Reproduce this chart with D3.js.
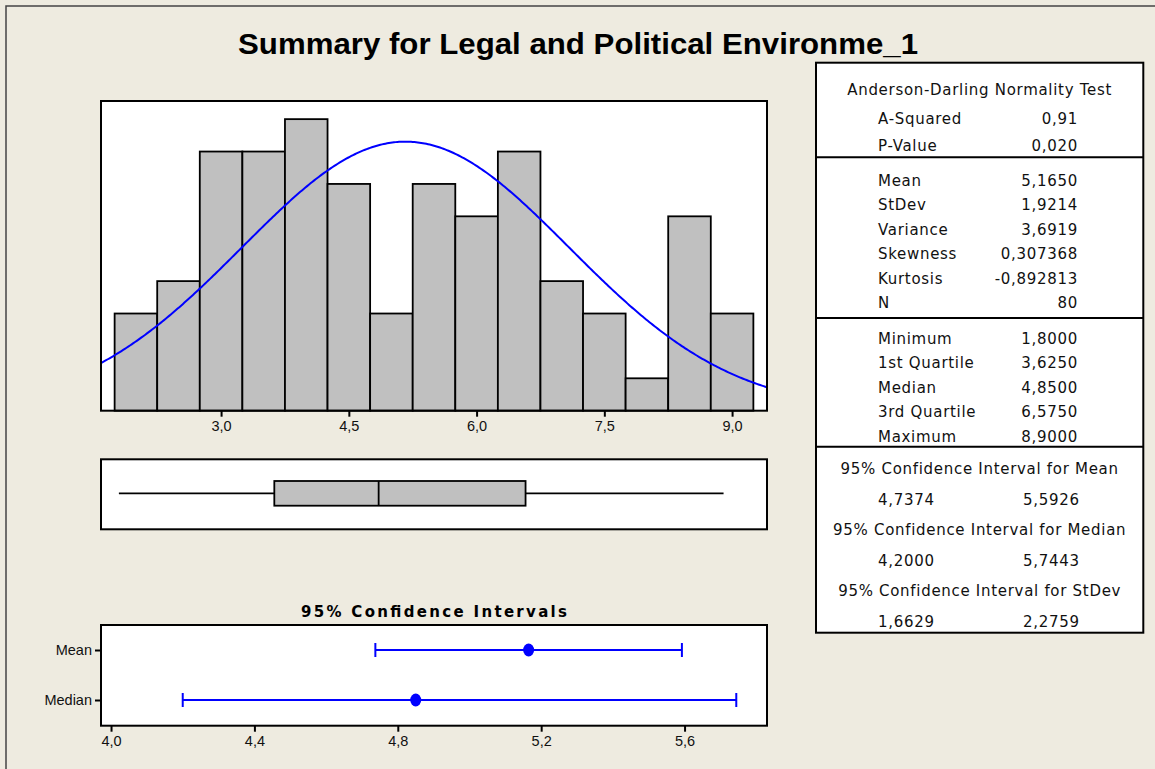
<!DOCTYPE html>
<html>
<head>
<meta charset="utf-8">
<script src="https://cdn.jsdelivr.net/npm/d3@7"></script>
<style>
  html, body { margin: 0; padding: 0; background: #eeebe0; }
  svg { display: block; }
  .tick text { font-family: "Liberation Sans", Arial, sans-serif; font-size: 14.5px; fill: #111; }
  .stat { font-family: "DejaVu Sans", Verdana, sans-serif; font-size: 15px; letter-spacing: 0.7px; fill: #111; }
</style>
</head>
<body>
<svg id="svg"></svg>
<script>
const width = 1155;
const height = 769;

// histogram bins (width 0.5) and their counts
const binMids = [2.0, 2.5, 3.0, 3.5, 4.0, 4.5, 5.0, 5.5, 6.0, 6.5, 7.0, 7.5, 8.0, 8.5, 9.0];
const binCounts = [3, 4, 8, 8, 9, 7, 3, 7, 6, 8, 4, 3, 1, 6, 3];
const binWidth = 0.5;
const histTicks = [3.0, 4.5, 6.0, 7.5, 9.0];

// fitted normal
const sampleMean = 5.165;
const sampleSd = 1.9214;
const sampleN = 80;

// five number summary for the box plot
const fiveNum = [1.8, 3.625, 4.85, 6.575, 8.9];

// confidence intervals
const ciNames = ["Mean", "Median"];
const ciCentre = [5.165, 4.85];
const ciLow = [4.7374, 4.2];
const ciHigh = [5.5926, 5.7443];
const ciTicks = [4.0, 4.4, 4.8, 5.2, 5.6];

// summary table text
const adLabels = ["A-Squared", "P-Value"];
const adValues = ["0,91", "0,020"];
const momentLabels = ["Mean", "StDev", "Variance", "Skewness", "Kurtosis", "N"];
const momentValues = ["5,1650", "1,9214", "3,6919", "0,307368", "-0,892813", "80"];
const quantLabels = ["Minimum", "1st Quartile", "Median", "3rd Quartile", "Maximum"];
const quantValues = ["1,8000", "3,6250", "4,8500", "6,5750", "8,9000"];
const ciTitles = ["95% Confidence Interval for Mean", "95% Confidence Interval for Median", "95% Confidence Interval for StDev"];
const ciTableLow = ["4,7374", "4,2000", "1,6629"];
const ciTableHigh = ["5,5926", "5,7443", "2,2759"];

const comma = d3.formatLocale({ decimal: ",", thousands: ".", grouping: [3], currency: ["", ""] });
const fmt1 = comma.format(".1f");

let svg = d3.select("#svg").attr("width", width).attr("height", height);

const left = 101, right = 767;
let xHist = d3.scaleLinear().domain([1.59, 9.41]).range([left, right]);

function drawBackground() {
    svg.append("rect").attr("width", width).attr("height", height).attr("fill", "#eeebe0");
    svg.append("rect")
        .attr("x", 6).attr("y", 6)
        .attr("width", width + 20).attr("height", height + 20)
        .attr("fill", "none").attr("stroke", "#444").attr("stroke-width", 1.5);

    svg.append("text")
        .attr("x", 578).attr("y", 54)
        .attr("text-anchor", "middle")
        .attr("textLength", 680).attr("lengthAdjust", "spacingAndGlyphs")
        .style("font-family", "'Liberation Sans', Arial, sans-serif")
        .style("font-weight", "bold").style("font-size", "30px")
        .text("Summary for Legal and Political Environme_1");
}

function drawHistogram() {
    const top = 101, bottom = 410.7;
    const yHist = d3.scaleLinear().domain([0, 9.56]).range([bottom, top]);

    svg.append("rect").attr("x", left).attr("y", top)
        .attr("width", right - left).attr("height", bottom - top).attr("fill", "white");

    svg.append("clipPath").attr("id", "hist-clip")
        .append("rect").attr("x", left).attr("y", top)
        .attr("width", right - left).attr("height", bottom - top);

    const bins = binMids.map((m, i) => ({ mid: m, count: binCounts[i] }));
    svg.append("g").selectAll("rect")
        .data(bins)
        .enter().append("rect")
        .attr("x", d => xHist(d.mid - binWidth / 2))
        .attr("width", d => xHist(d.mid + binWidth / 2) - xHist(d.mid - binWidth / 2))
        .attr("y", d => yHist(d.count))
        .attr("height", d => bottom - yHist(d.count))
        .attr("fill", "#c0c0c0").attr("stroke", "#000").attr("stroke-width", 1.8);

    // normal density scaled to counts
    const xs = d3.range(1.59, 9.42, 0.02);
    const dens = x => sampleN * binWidth * Math.exp(-0.5 * ((x - sampleMean) / sampleSd) ** 2) / (sampleSd * Math.sqrt(2 * Math.PI));
    svg.append("path")
        .datum(xs)
        .attr("clip-path", "url(#hist-clip)")
        .attr("fill", "none").attr("stroke", "#0000ff").attr("stroke-width", 2)
        .attr("d", d3.line().x(d => xHist(d)).y(d => yHist(dens(d))));

    svg.append("rect").attr("x", left).attr("y", top)
        .attr("width", right - left).attr("height", bottom - top)
        .attr("fill", "none").attr("stroke", "#000").attr("stroke-width", 2);

    const ax = svg.append("g")
        .attr("transform", `translate(0,${bottom})`)
        .call(d3.axisBottom(xHist).tickValues(histTicks).tickSize(6).tickPadding(4).tickFormat(fmt1));
    ax.select(".domain").remove();
    ax.selectAll(".tick line").attr("stroke", "#000").attr("stroke-width", 2);
}

function drawBoxplot() {
    const top = 459.3, bottom = 529.3;
    const boxTop = 481, boxBottom = 505.7, mid = 493.3;
    svg.append("rect").attr("x", left).attr("y", top)
        .attr("width", right - left).attr("height", bottom - top)
        .attr("fill", "white").attr("stroke", "#000").attr("stroke-width", 2);

    const g = svg.append("g").attr("stroke", "#000").attr("stroke-width", 1.8);
    g.append("line").attr("x1", xHist(fiveNum[0])).attr("x2", xHist(fiveNum[1])).attr("y1", mid).attr("y2", mid);
    g.append("line").attr("x1", xHist(fiveNum[3])).attr("x2", xHist(fiveNum[4])).attr("y1", mid).attr("y2", mid);
    g.append("rect")
        .attr("x", xHist(fiveNum[1])).attr("y", boxTop)
        .attr("width", xHist(fiveNum[3]) - xHist(fiveNum[1])).attr("height", boxBottom - boxTop)
        .attr("fill", "#c0c0c0");
    g.append("line").attr("x1", xHist(fiveNum[2])).attr("x2", xHist(fiveNum[2])).attr("y1", boxTop).attr("y2", boxBottom);
}

function drawIntervals() {
    const top = 625, bottom = 725.7;
    const xCI = d3.scaleLinear().domain([3.972, 5.83]).range([left, right]);
    const yCI = d3.scalePoint().domain(ciNames).range([650, 700]);

    svg.append("text")
        .attr("x", (left + right) / 2).attr("y", 616.5)
        .attr("text-anchor", "middle")
        .attr("textLength", 266).attr("lengthAdjust", "spacing")
        .style("font-family", "'DejaVu Sans', Verdana, sans-serif")
        .style("font-weight", "bold").style("font-size", "15px")
        .text("95% Confidence Intervals");

    svg.append("rect").attr("x", left).attr("y", top)
        .attr("width", right - left).attr("height", bottom - top)
        .attr("fill", "white").attr("stroke", "#000").attr("stroke-width", 2);

    const rows = ciNames.map((n, i) => ({ name: n, c: ciCentre[i], lo: ciLow[i], hi: ciHigh[i] }));
    const g = svg.append("g").selectAll("g").data(rows).enter().append("g")
        .attr("stroke", "#0000ff").attr("stroke-width", 2);
    g.append("line").attr("x1", d => xCI(d.lo)).attr("x2", d => xCI(d.hi))
        .attr("y1", d => yCI(d.name)).attr("y2", d => yCI(d.name));
    g.append("line").attr("x1", d => xCI(d.lo)).attr("x2", d => xCI(d.lo))
        .attr("y1", d => yCI(d.name) - 7).attr("y2", d => yCI(d.name) + 7);
    g.append("line").attr("x1", d => xCI(d.hi)).attr("x2", d => xCI(d.hi))
        .attr("y1", d => yCI(d.name) - 7).attr("y2", d => yCI(d.name) + 7);
    g.append("ellipse").attr("cx", d => xCI(d.c)).attr("cy", d => yCI(d.name))
        .attr("rx", 5.5).attr("ry", 6.5).attr("fill", "#0000ff").attr("stroke", "none");

    const ax = svg.append("g")
        .attr("transform", `translate(0,${bottom})`)
        .call(d3.axisBottom(xCI).tickValues(ciTicks).tickSize(6).tickPadding(4).tickFormat(fmt1));
    ax.select(".domain").remove();
    ax.selectAll(".tick line").attr("stroke", "#000").attr("stroke-width", 2);

    const ay = svg.append("g")
        .attr("transform", `translate(${left},0)`)
        .call(d3.axisLeft(yCI).tickSize(6).tickPadding(3));
    ay.select(".domain").remove();
    ay.selectAll(".tick line").attr("stroke", "#000").attr("stroke-width", 2);
}

function drawTable() {
    const tx0 = 816, tx1 = 1143.3;
    const labelX = 878, valueX = 1078, highX = 1023, midX = (tx0 + tx1) / 2;

    svg.append("rect").attr("x", tx0).attr("y", 62.7)
        .attr("width", tx1 - tx0).attr("height", 632.7 - 62.7)
        .attr("fill", "white").attr("stroke", "#000").attr("stroke-width", 2);
    [157.3, 318, 446.7].forEach(y => {
        svg.append("line").attr("x1", tx0).attr("x2", tx1).attr("y1", y).attr("y2", y)
            .attr("stroke", "#000").attr("stroke-width", 2);
    });

    const t = svg.append("g");
    t.append("text").attr("class", "stat").attr("x", midX).attr("y", 95)
        .attr("text-anchor", "middle").text("Anderson-Darling Normality Test");

    function rows(labels, values, y0, step) {
        labels.forEach((l, i) => {
            t.append("text").attr("class", "stat").attr("x", labelX).attr("y", y0 + i * step).text(l);
            t.append("text").attr("class", "stat").attr("x", valueX).attr("y", y0 + i * step)
                .attr("text-anchor", "end").text(values[i]);
        });
    }
    rows(adLabels, adValues, 124, 26.5);
    rows(momentLabels, momentValues, 185.5, 24.5);
    rows(quantLabels, quantValues, 344, 24.4);

    ciTitles.forEach((title, i) => {
        const y = 474 + i * 61.2;
        t.append("text").attr("class", "stat").attr("x", midX).attr("y", y)
            .attr("text-anchor", "middle").text(title);
        t.append("text").attr("class", "stat").attr("x", labelX).attr("y", y + 30.5).text(ciTableLow[i]);
        t.append("text").attr("class", "stat").attr("x", highX).attr("y", y + 30.5).text(ciTableHigh[i]);
    });
}

function initialise() {
    drawBackground();
    drawHistogram();
    drawBoxplot();
    drawIntervals();
    drawTable();
}

initialise();
</script>
</body>
</html>
